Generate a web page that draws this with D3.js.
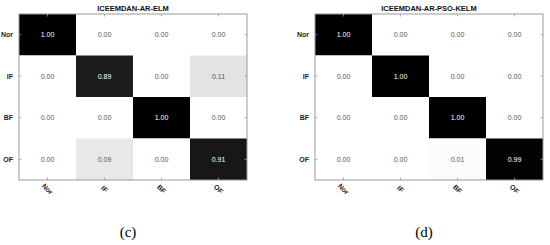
<!DOCTYPE html>
<html>
<head>
<meta charset="utf-8">
<script src="https://cdn.jsdelivr.net/npm/d3@7"></script>
<style>
  body { margin: 0; background: #fff; }
  svg { display: block; }
</style>
</head>
<body>
<div id="chart"></div>
<script>
const width = 550
const height = 245

const classes = ["Nor", "IF", "BF", "OF"]

const titleC = "ICEEMDAN-AR-ELM"
const matrixC = [
  [1.00, 0.00, 0.00, 0.00],
  [0.00, 0.89, 0.00, 0.11],
  [0.00, 0.00, 1.00, 0.00],
  [0.00, 0.09, 0.00, 0.91]
]

const titleD = "ICEEMDAN-AR-PSO-KELM"
const matrixD = [
  [1.00, 0.00, 0.00, 0.00],
  [0.00, 1.00, 0.00, 0.00],
  [0.00, 0.00, 1.00, 0.00],
  [0.00, 0.00, 0.01, 0.99]
]

const panelLabels = ["(c)", "(d)"]

const svg = d3.select("#chart")
  .append("svg")
  .attr("width", width)
  .attr("height", height)

const color = d3.scaleLinear().domain([0, 1]).range(["#ffffff", "#000000"])

const drawPanel = (left, title, matrix, label) => {
  const top = 14, w = 228, h = 166

  const x = d3.scaleBand().domain(classes).range([left, left + w])
  const y = d3.scaleBand().domain(classes).range([top, top + h])

  const g = svg.append("g")

  const cells = []
  matrix.forEach((row, i) => {
    row.forEach((v, j) => cells.push({r: classes[i], c: classes[j], v: v}))
  })

  g.selectAll("rect.cell")
    .data(cells)
    .join("rect")
      .attr("class", "cell")
      .attr("x", d => x(d.c))
      .attr("y", d => y(d.r))
      .attr("width", x.bandwidth())
      .attr("height", y.bandwidth())
      .attr("fill", d => color(d.v))

  g.selectAll("text.val")
    .data(cells)
    .join("text")
      .attr("class", "val")
      .attr("x", d => x(d.c) + x.bandwidth() / 2)
      .attr("y", d => y(d.r) + y.bandwidth() / 2)
      .attr("dy", "0.35em")
      .attr("text-anchor", "middle")
      .attr("font-family", "Liberation Sans, Arial, sans-serif")
      .attr("font-size", "7px")
      .attr("fill", d => d.v > 0.5 ? "#ffffff" : "#555555")
      .text(d => d.v.toFixed(2))

  // box
  g.append("rect")
    .attr("x", left).attr("y", top)
    .attr("width", w).attr("height", h)
    .attr("fill", "none")
    .attr("stroke", "#999")
    .attr("stroke-width", 1)

  // inward ticks on all four sides
  const tk = 2.5
  classes.forEach(c => {
    const cx = x(c) + x.bandwidth() / 2
    const cy = y(c) + y.bandwidth() / 2
    g.append("line").attr("x1", cx).attr("x2", cx).attr("y1", top).attr("y2", top + tk)
    g.append("line").attr("x1", cx).attr("x2", cx).attr("y1", top + h).attr("y2", top + h - tk)
    g.append("line").attr("x1", left).attr("x2", left + tk).attr("y1", cy).attr("y2", cy)
    g.append("line").attr("x1", left + w).attr("x2", left + w - tk).attr("y1", cy).attr("y2", cy)
  })
  g.selectAll("line").attr("stroke", "#999").attr("stroke-width", 0.8)

  // row labels
  g.selectAll("text.ylab")
    .data(classes)
    .join("text")
      .attr("class", "ylab")
      .attr("x", left - 6)
      .attr("y", d => y(d) + y.bandwidth() / 2)
      .attr("dy", "0.35em")
      .attr("text-anchor", "end")
      .attr("font-family", "Liberation Sans, Arial, sans-serif")
      .attr("font-weight", "bold")
      .attr("font-size", "7px")
      .attr("fill", "#222")
      .text(d => d)

  // column labels, rotated
  g.selectAll("text.xlab")
    .data(classes)
    .join("text")
      .attr("class", "xlab")
      .attr("transform", d => `translate(${x(d) + x.bandwidth() / 2},${top + h + 9}) rotate(45)`)
      .attr("text-anchor", "middle")
      .attr("dy", "0.35em")
      .attr("font-family", "Liberation Sans, Arial, sans-serif")
      .attr("font-weight", "bold")
      .attr("font-size", "7px")
      .attr("fill", "#222")
      .text(d => d)

  g.append("text")
    .attr("x", left + w / 2)
    .attr("y", top - 3)
    .attr("text-anchor", "middle")
    .attr("font-family", "Liberation Sans, Arial, sans-serif")
    .attr("font-weight", "bold")
    .attr("font-size", "7.5px")
    .attr("fill", "#111")
    .text(title)

  g.append("text")
    .attr("x", left + w / 2 - 5)
    .attr("y", 237)
    .attr("text-anchor", "middle")
    .attr("font-family", "Liberation Serif, Times New Roman, serif")
    .attr("font-size", "15px")
    .attr("fill", "#000")
    .text(label)
}

drawPanel(19, titleC, matrixC, panelLabels[0])
drawPanel(315, titleD, matrixD, panelLabels[1])
</script>
</body>
</html>
